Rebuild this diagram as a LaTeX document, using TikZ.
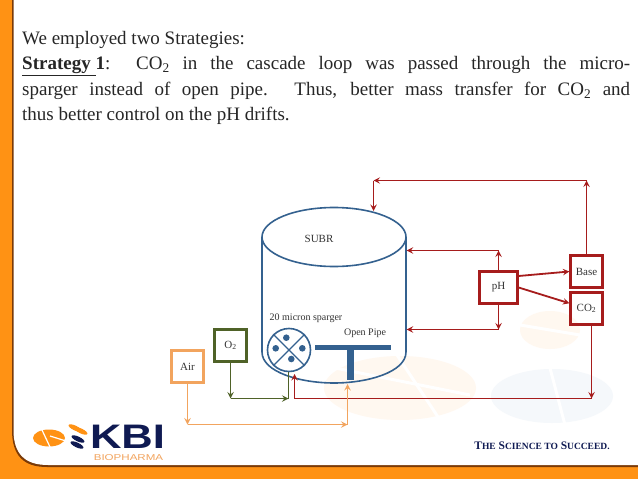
\documentclass[tikz,border=0pt]{standalone}
\usepackage{fontspec}
\setmainfont{Liberation Serif}
\newfontfamily\logofont{Liberation Sans}
\definecolor{slideorange}{HTML}{FF9214}
\definecolor{slideedge}{HTML}{7A3A08}
\definecolor{tankblue}{HTML}{34618F}
\definecolor{ctrlred}{HTML}{A61C1C}
\definecolor{oxgreen}{HTML}{4F6228}
\definecolor{airorange}{HTML}{F2A45E}
\definecolor{kbinavy}{HTML}{0F1A52}
\definecolor{markorange}{HTML}{FFF8F0}
\definecolor{markblue}{HTML}{F5F8FB}
\tikzset{
  labeltext/.style={font=\fontsize{10}{12}\selectfont,text=black!80,inner sep=0pt},
  unitbox/.style={draw,line width=2.2pt,minimum width=32pt,minimum height=32pt,inner sep=0pt,font=\fontsize{11}{12}\selectfont,text=black!80},
  redline/.style={ctrlred,line width=1.8pt},
  greenline/.style={oxgreen,line width=1.8pt},
  airline/.style={airorange,line width=1.8pt},
}
\begin{document}
\begin{tikzpicture}[>=stealth,x=1pt,y=-1pt]
\useasboundingbox (0,0) rectangle (638,479);
% slide frame
\fill[slideorange] (0,0) rectangle (638,479);
\fill[slideedge] (12,0)--(12,430) .. controls (12,456) and (24,467) .. (47,467)--(638,467)--(638,0)--cycle;
\fill[white] (13.5,0)--(13.5,430) .. controls (13.5,454) and (25,465) .. (48,465)--(638,465)--(638,0)--cycle;
% watermark
\begin{scope}
\fill[markorange] (400,388) ellipse [x radius=76,y radius=32];
\fill[markorange] (550,330) ellipse [x radius=30,y radius=19];
\fill[markblue] (552,396) ellipse [x radius=61,y radius=27];
\draw[white,line width=3pt] (335,368)--(470,395);
\draw[white,line width=3pt] (395,352)--(440,420);
\draw[white,line width=3pt] (520,325)--(580,335);
\draw[white,line width=3pt] (550,368)--(565,425);
\end{scope}
% text
\node[anchor=north west,text width=608pt,align=justify,inner sep=0pt,font=\fontsize{19}{25.5}\selectfont,text=black!85] (intro) at (22,31)
{We employed two Strategies:\\
\underline{\textbf{Strategy\ }}\textbf{1}:\ \ CO\textsubscript{2} in the cascade loop was passed through the micro-\linebreak
sparger instead of open pipe. Thus, better mass transfer for CO\textsubscript{2} and\linebreak
thus better control on the pH drifts.};
% tank
\draw[tankblue,line width=1.6pt] (334,237) ellipse [x radius=72,y radius=29.5];
\draw[tankblue,line width=1.6pt] (262,237)--(262,352) .. controls (262,372) and (300,383) .. (334,383) .. controls (368,383) and (406,372) .. (406,352)--(406,237);
\node[labeltext,font=\fontsize{11}{12}\selectfont] (subr) at (319,239) {SUBR};
\node[labeltext] (spargerlabel) at (306,318) {20 micron sparger};
\node[labeltext] (pipelabel) at (365,333.5) {Open Pipe};
% sparger
\node[circle,draw=tankblue,line width=1.6pt,minimum size=43pt,inner sep=0pt] (sparger) at (289,350) {};
\draw[tankblue,line width=1.4pt] (sparger.45)--(sparger.225);
\draw[tankblue,line width=1.4pt] (sparger.135)--(sparger.315);
\foreach \x/\y in {286.3/337.7,275.7/348.3,302.3/348.3,291.3/359}
{
    \fill[tankblue] (\x,\y) circle [radius=3.3];
}
% open pipe
\fill[tankblue] (315,345) rectangle (391,349.5);
\fill[tankblue] (347,349.5) rectangle (354,380);
% boxes
\node[unitbox,draw=airorange] (air) at (187.5,366.5) {Air};
\node[unitbox,draw=oxgreen] (oxygen) at (230.5,345.5) {O\textsubscript{2}};
\node[unitbox,draw=ctrlred,minimum width=38pt] (ph) at (498.5,287.5) {pH};
\node[unitbox,draw=ctrlred] (base) at (586.5,271.5) {Base};
\node[unitbox,draw=ctrlred] (carbon) at (586.5,308.5) {CO\textsubscript{2}};
% corner points
\coordinate (tanktop) at (373.5,211);
\coordinate (topleft) at (373.5,180.5);
\coordinate (topright) at (586.5,180.5);
\coordinate (phup) at (498.5,250.5);
\coordinate (phdown) at (498.5,329.5);
\coordinate (tankup) at (406.7,250.5);
\coordinate (tankdown) at (406.7,329.5);
\coordinate (redcorner) at (591.5,398.5);
\coordinate (redleft) at (294.5,398.5);
\coordinate (redtip) at (294.5,374);
\coordinate (greencorner) at (230.5,398.5);
\coordinate (greenright) at (288.5,398.5);
\coordinate (greentip) at (288.5,372);
\coordinate (aircorner) at (187.5,424.5);
\coordinate (airright) at (347.5,424.5);
\coordinate (airtip) at (347.5,384);
% red loops
\draw[redline,->] (base.north)--(topright);
\draw[redline,->] (topright)--(topleft);
\draw[redline,->] (topleft)--(tanktop);
\draw[redline,->] (ph.north)--(phup);
\draw[redline,->] (phup)--(tankup);
\draw[redline,->] (ph.south)--(phdown);
\draw[redline,->] (phdown)--(tankdown);
\draw[redline,->] (ph.east |- 0,276)--(base.west);
\draw[redline,->] (ph.east)--(carbon.163);
\draw[redline,->] (carbon.south -| redcorner)--(redcorner);
\draw[redline] (redcorner)--(redleft);
\draw[redline,->] (redleft)--(redtip);
% gas lines
\draw[greenline,->] (oxygen.south)--(greencorner);
\draw[greenline,->] (greencorner)--(greenright);
\draw[greenline] (greenright)--(greentip);
\draw[airline,->] (air.south)--(aircorner);
\draw[airline,->] (aircorner)--(airright);
\draw[airline,->] (airright)--(airtip);
% logo
\fill[slideorange] (49,438) ellipse [x radius=16,y radius=8.5];
\draw[white,line width=1.2pt] (42,430)--(50,447);
\draw[white,line width=1.2pt] (50,436)--(66,441);
\foreach \x/\y/\c in {75/428/slideorange,81/431/slideorange,78/439/kbinavy,77/445/kbinavy}
{
    \fill[\c,rotate around={-25:(\x,\y)}] (\x,\y) ellipse [x radius=7,y radius=2.4];
}
\node[font=\logofont\bfseries\fontsize{34}{34}\selectfont,text=kbinavy,xscale=1.28,inner sep=0pt] (kbi) at (127.5,436.5) {KBI};
\node[font=\logofont\fontsize{8.5}{9}\selectfont,text=airorange,xscale=1.36,inner sep=0pt] (biopharma) at (128.5,457.5) {BIOPHARMA};
\node[font=\bfseries\fontsize{11.5}{12}\selectfont,text=kbinavy,inner sep=0pt] (tagline) at (542,446)
{T{\fontsize{9.5}{10}\selectfont HE} S{\fontsize{9.5}{10}\selectfont CIENCE TO} S{\fontsize{9.5}{10}\selectfont UCCEED.}};
\end{tikzpicture}
\end{document}
